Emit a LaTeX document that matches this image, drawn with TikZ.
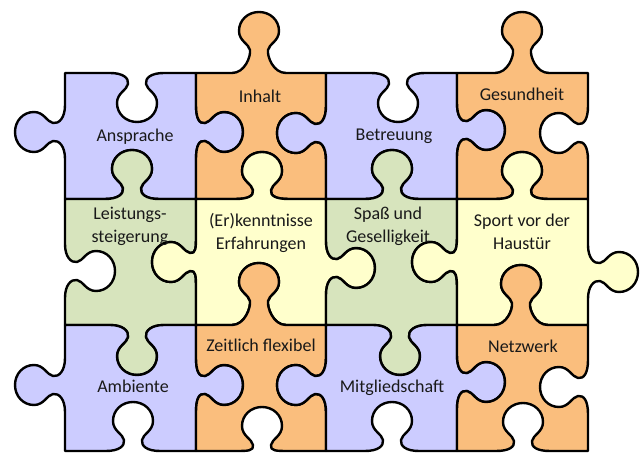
\documentclass[tikz,border=0pt]{standalone}
\usepackage{fontspec}
\setmainfont{Carlito}

\definecolor{pzpurple}{RGB}{204,204,255}
\definecolor{pzorange}{RGB}{250,190,125}
\definecolor{pzgreen}{RGB}{215,228,189}
\definecolor{pzyellow}{RGB}{255,255,204}

\tikzset{
  % knob on a horizontal edge: #1 = y of edge, #2 = direction of travel (+1/-1),
  % #3 = x of knob centre, #4 = side of knob (+1 down / -1 up), #5 = depth
  tabh/.style n args={5}{insert path={
    -- ({#3-27*(#2)},{#1})
    .. controls ({#3-14*(#2)},{#1}) and ({#3-8*(#2)},{#1+(#4)*(#5-44)})
    .. ({#3-9*(#2)},{#1+(#4)*(#5-38)})
    .. controls ({#3-10*(#2)},{#1+(#4)*(#5-32)}) and ({#3-20*(#2)},{#1+(#4)*(#5-29)})
    .. ({#3-20*(#2)},{#1+(#4)*(#5-19)})
    .. controls ({#3-20*(#2)},{#1+(#4)*(#5-8)}) and ({#3-11*(#2)},{#1+(#4)*(#5)})
    .. ({#3},{#1+(#4)*(#5)})
    .. controls ({#3+11*(#2)},{#1+(#4)*(#5)}) and ({#3+20*(#2)},{#1+(#4)*(#5-8)})
    .. ({#3+20*(#2)},{#1+(#4)*(#5-19)})
    .. controls ({#3+20*(#2)},{#1+(#4)*(#5-29)}) and ({#3+10*(#2)},{#1+(#4)*(#5-32)})
    .. ({#3+9*(#2)},{#1+(#4)*(#5-38)})
    .. controls ({#3+8*(#2)},{#1+(#4)*(#5-44)}) and ({#3+14*(#2)},{#1})
    .. ({#3+27*(#2)},{#1})
  }},
  % knob on a vertical edge: #1 = x of edge, #2 = direction of travel (+1 down / -1 up),
  % #3 = y of knob centre, #4 = side of knob (+1 right / -1 left), #5 = depth
  tabv/.style n args={5}{insert path={
    -- ({#1},{#3-27*(#2)})
    .. controls ({#1},{#3-14*(#2)}) and ({#1+(#4)*(#5-44)},{#3-8*(#2)})
    .. ({#1+(#4)*(#5-38)},{#3-9*(#2)})
    .. controls ({#1+(#4)*(#5-32)},{#3-10*(#2)}) and ({#1+(#4)*(#5-29)},{#3-20*(#2)})
    .. ({#1+(#4)*(#5-19)},{#3-20*(#2)})
    .. controls ({#1+(#4)*(#5-8)},{#3-20*(#2)}) and ({#1+(#4)*(#5)},{#3-11*(#2)})
    .. ({#1+(#4)*(#5)},{#3})
    .. controls ({#1+(#4)*(#5)},{#3+11*(#2)}) and ({#1+(#4)*(#5-8)},{#3+20*(#2)})
    .. ({#1+(#4)*(#5-19)},{#3+20*(#2)})
    .. controls ({#1+(#4)*(#5-29)},{#3+20*(#2)}) and ({#1+(#4)*(#5-32)},{#3+10*(#2)})
    .. ({#1+(#4)*(#5-38)},{#3+9*(#2)})
    .. controls ({#1+(#4)*(#5-44)},{#3+8*(#2)}) and ({#1},{#3+14*(#2)})
    .. ({#1},{#3+27*(#2)})
  }},
  piece/.style={draw=black, line width=2.4pt, line join=round},
  lbl/.style={font=\fontsize{18}{23}\selectfont, align=center, text=black!90, inner sep=0pt},
}

% one puzzle piece: colour, left x, top y, right x, bottom y,
% then {centre}{side}{depth} of the knob on top, right, bottom and left edge
\newcommand\jpiece[9]{%
  \filldraw[piece, fill=#1] (#2,#3) [tabh={#3}{1}#6] -- (#4,#3)
    [tabv={#4}{1}#7] -- (#4,#5)
    [tabh={#5}{-1}#8] -- (#2,#5)
    [tabv={#2}{-1}#9] -- cycle;}

\begin{document}
\begin{tikzpicture}[x=1pt, y=-1pt]
\useasboundingbox (0,0) rectangle (641,457);

% first row
\jpiece{pzpurple}{65}{73}{196}{199}{{137}{1}{49}}{{132}{1}{47}}{{132}{-1}{49}}{{132}{-1}{50}}
\jpiece{pzorange}{196}{73}{326}{199}{{259}{-1}{61}}{{133}{-1}{49}}{{262}{-1}{47}}{{132}{1}{47}}
\jpiece{pzpurple}{326}{73}{457}{199}{{398}{1}{49}}{{130}{1}{48}}{{392}{-1}{49}}{{133}{-1}{49}}
\jpiece{pzorange}{457}{73}{588}{199}{{522}{-1}{61}}{{133}{-1}{48}}{{522}{-1}{47}}{{130}{1}{48}}
% second row
\jpiece{pzgreen}{65}{199}{196}{325}{{132}{-1}{49}}{{262}{-1}{44}}{{137}{1}{50}}{{271}{1}{50}}
\jpiece{pzyellow}{196}{199}{326}{325}{{262}{-1}{47}}{{268}{1}{49}}{{259}{-1}{62}}{{262}{-1}{44}}
\jpiece{pzgreen}{326}{199}{457}{325}{{392}{-1}{49}}{{262}{-1}{45}}{{400}{1}{50}}{{268}{1}{49}}
\jpiece{pzyellow}{457}{199}{588}{325}{{522}{-1}{47}}{{272}{1}{50}}{{521}{-1}{60}}{{262}{-1}{45}}
% third row
\jpiece{pzpurple}{65}{325}{196}{451}{{137}{1}{50}}{{385}{1}{47}}{{133}{-1}{49}}{{385}{-1}{50}}
\jpiece{pzorange}{196}{325}{326}{451}{{259}{-1}{62}}{{385}{-1}{49}}{{262}{-1}{44}}{{385}{1}{47}}
\jpiece{pzpurple}{326}{325}{457}{451}{{400}{1}{50}}{{382}{1}{48}}{{392}{-1}{49}}{{385}{-1}{49}}
\jpiece{pzorange}{457}{325}{588}{451}{{521}{-1}{60}}{{387}{-1}{48}}{{523}{-1}{48}}{{382}{1}{48}}

% labels
\node[lbl, anchor=base] (ansprache) at (135,142) {Ansprache};
\node[lbl, anchor=base] (inhalt) at (260,103) {Inhalt};
\node[lbl, anchor=base] (betreuung) at (394,141) {Betreuung};
\node[lbl, anchor=base] (gesundheit) at (522,101) {Gesundheit};
\node[lbl] (leistung) at (130,226) {Leistungs-\\steigerung};
\node[lbl] (erkennt) at (261,233) {(Er)kenntnisse\\Erfahrungen};
\node[lbl] (spass) at (388,226) {Spaß und\\Geselligkeit};
\node[lbl] (sport) at (522,232) {Sport vor der\\Haustür};
\node[lbl, anchor=base] (zeitlich) at (261,352) {Zeitlich flexibel};
\node[lbl, anchor=base] (ambiente) at (133,393) {Ambiente};
\node[lbl, anchor=base] (mitglied) at (392,393) {Mitgliedschaft};
\node[lbl, anchor=base] (netzwerk) at (523,353) {Netzwerk};
\end{tikzpicture}
\end{document}
